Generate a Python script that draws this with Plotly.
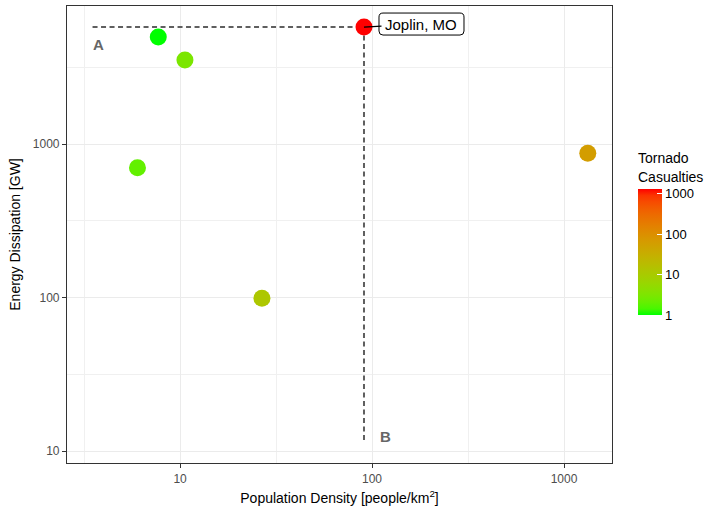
import math
import plotly.graph_objects as go

# Tornado events: population density, energy dissipation, casualties
pop_density = [90.8, 7.7, 10.6, 6.0, 26.7, 1330.0]
energy_gw = [5780, 4980, 3530, 700, 99, 870]
casualties = [1300, 1, 3, 2, 12, 60]

# Reference guides through the Joplin event
guide_h_x = [3.5, 90.8]
guide_h_y = [5780, 5780]
guide_v_x = [90.8, 90.8]
guide_v_y = [5780, 11.8]

label_names = ["A", "B"]
label_x = [3.75, 117]
label_y = [4420, 12.4]

cbar_tickvals = [1, 10, 100, 1000]


# ---- green -> red gradient interpolated in CIE Lab space ----
def _to_lin(c):
    c = c / 255.0
    return c / 12.92 if c <= 0.04045 else ((c + 0.055) / 1.055) ** 2.4


def _from_lin(c):
    c = 12.92 * c if c <= 0.0031308 else 1.055 * c ** (1 / 2.4) - 0.055
    return max(0, min(255, round(c * 255)))


WHITE = (0.95047, 1.0, 1.08883)


def rgb_to_lab(rgb):
    r, g, b = (_to_lin(v) for v in rgb)
    x = 0.4124564 * r + 0.3575761 * g + 0.1804375 * b
    y = 0.2126729 * r + 0.7151522 * g + 0.0721750 * b
    z = 0.0193339 * r + 0.1191920 * g + 0.9503041 * b

    def f(t):
        return t ** (1 / 3) if t > 216 / 24389 else (24389 / 27 * t + 16) / 116

    fx, fy, fz = f(x / WHITE[0]), f(y / WHITE[1]), f(z / WHITE[2])
    return 116 * fy - 16, 500 * (fx - fy), 200 * (fy - fz)


def lab_to_rgb(lab):
    L, a, b = lab
    fy = (L + 16) / 116
    fx = fy + a / 500
    fz = fy - b / 200

    def finv(t):
        return t ** 3 if t ** 3 > 216 / 24389 else (116 * t - 16) / (24389 / 27)

    x, y, z = finv(fx) * WHITE[0], finv(fy) * WHITE[1], finv(fz) * WHITE[2]
    r = 3.2404542 * x - 1.5371385 * y - 0.4985314 * z
    g = -0.9692660 * x + 1.8760108 * y + 0.0415560 * z
    bb = 0.0556434 * x - 0.2040259 * y + 1.0572252 * z
    return tuple(_from_lin(max(0.0, v)) for v in (r, g, bb))


low_lab = rgb_to_lab((0, 255, 0))
high_lab = rgb_to_lab((255, 0, 0))
n_stops = 21
colorscale = []
for i in range(n_stops):
    t = i / (n_stops - 1)
    lab = tuple(lo + (hi - lo) * t for lo, hi in zip(low_lab, high_lab))
    r, g, b = lab_to_rgb(lab)
    colorscale.append([t, f"rgb({r},{g},{b})"])

log_cas = [math.log10(c) for c in casualties]
cmin, cmax = min(log_cas), max(log_cas)

FONT = "Liberation Sans, Arial, sans-serif"
GUIDE = "#5f5f5f"

fig = go.Figure()

fig.add_trace(go.Scatter(
    x=guide_h_x, y=guide_h_y, mode="lines",
    line=dict(color=GUIDE, width=2, dash="5px,3.5px"),
    hoverinfo="skip", showlegend=False,
))
fig.add_trace(go.Scatter(
    x=guide_v_x, y=guide_v_y, mode="lines",
    line=dict(color=GUIDE, width=2, dash="5px,3.5px"),
    hoverinfo="skip", showlegend=False,
))

fig.add_trace(go.Scatter(
    x=pop_density, y=energy_gw, mode="markers",
    marker=dict(
        size=17,
        color=log_cas,
        colorscale=colorscale,
        cmin=cmin, cmax=cmax,
        line=dict(width=0),
        colorbar=dict(
            title=dict(text="Tornado<br>Casualties", side="top",
                       font=dict(family=FONT, size=14, color="#000000")),
            tickvals=[math.log10(v) for v in cbar_tickvals],
            ticktext=[str(v) for v in cbar_tickvals],
            ticks="inside", ticklen=5, tickcolor="white", tickwidth=1,
            tickfont=dict(family=FONT, size=13, color="#000000"),
            thickness=24, thicknessmode="pixels",
            len=165, lenmode="pixels",
            x=1.0477, xanchor="left", xpad=0,
            y=0.3239, yanchor="bottom", ypad=0,
            outlinewidth=0,
        ),
    ),
    showlegend=False,
))

# Rounded label box next to the Joplin point (pixel offsets from the point)
jx, jy = pop_density[0], energy_gw[0]
bx0, bx1, by0, by1, rad = 15, 100, -8, 14, 4
box_path = (
    f"M {bx0 + rad},{by0} L {bx1 - rad},{by0} Q {bx1},{by0} {bx1},{by0 + rad} "
    f"L {bx1},{by1 - rad} Q {bx1},{by1} {bx1 - rad},{by1} "
    f"L {bx0 + rad},{by1} Q {bx0},{by1} {bx0},{by1 - rad} "
    f"L {bx0},{by0 + rad} Q {bx0},{by0} {bx0 + rad},{by0} Z"
)
shapes = [dict(
    type="path", path=box_path,
    xref="x", yref="y", xsizemode="pixel", ysizemode="pixel",
    xanchor=jx, yanchor=jy,
    fillcolor="white", line=dict(color="#000000", width=1),
    layer="above",
)]

annotations = [
    dict(
        x=math.log10(jx), y=math.log10(jy), xref="x", yref="y", text="Joplin, MO",
        showarrow=True, arrowhead=0, arrowwidth=1.2, arrowcolor="#000000",
        ax=(bx0 + bx1) / 2, ay=-(by0 + by1) / 2, standoff=0,
        font=dict(family=FONT, size=15, color="#000000"),
        bgcolor="rgba(0,0,0,0)", borderwidth=0, borderpad=4,
    )
]
for name, lx, ly in zip(label_names, label_x, label_y):
    annotations.append(dict(
        x=math.log10(lx), y=math.log10(ly), xref="x", yref="y",
        text=f"<b>{name}</b>", showarrow=False,
        font=dict(family=FONT, size=15, color="#666666"),
    ))

axis_common = dict(
    type="log",
    showline=True, mirror=True, linecolor="#333333", linewidth=1.2,
    ticks="outside", ticklen=4, tickcolor="#333333", tickwidth=1,
    tickfont=dict(family=FONT, size=12, color="#4d4d4d"),
    showgrid=True, gridcolor="#ebebeb", gridwidth=1.1,
    zeroline=False,
)

fig.update_layout(
    width=714, height=509,
    margin=dict(l=67, r=102, t=6, b=46),
    paper_bgcolor="white", plot_bgcolor="white",
    font=dict(family=FONT),
    annotations=annotations,
    shapes=shapes,
    xaxis=dict(
        **axis_common,
        range=[0.411, 3.25],
        tickvals=[10, 100, 1000], ticktext=["10", "100", "1000"],
        minor=dict(tickvals=[10 ** 0.5, 10 ** 1.5, 10 ** 2.5],
                   showgrid=True, gridcolor="#f0f0f0", gridwidth=0.7, ticks=""),
        title=dict(text="Population Density [people/km<sup>2</sup>]",
                   font=dict(family=FONT, size=14, color="#000000"), standoff=8),
    ),
    yaxis=dict(
        **axis_common,
        range=[0.922, 3.899],
        tickvals=[10, 100, 1000], ticktext=["10", "100", "1000"],
        minor=dict(tickvals=[10 ** 1.5, 10 ** 2.5, 10 ** 3.5],
                   showgrid=True, gridcolor="#f0f0f0", gridwidth=0.7, ticks=""),
        title=dict(text="Energy Dissipation [GW]",
                   font=dict(family=FONT, size=14, color="#000000"), standoff=8),
    ),
)

fig.write_html("out.html")
